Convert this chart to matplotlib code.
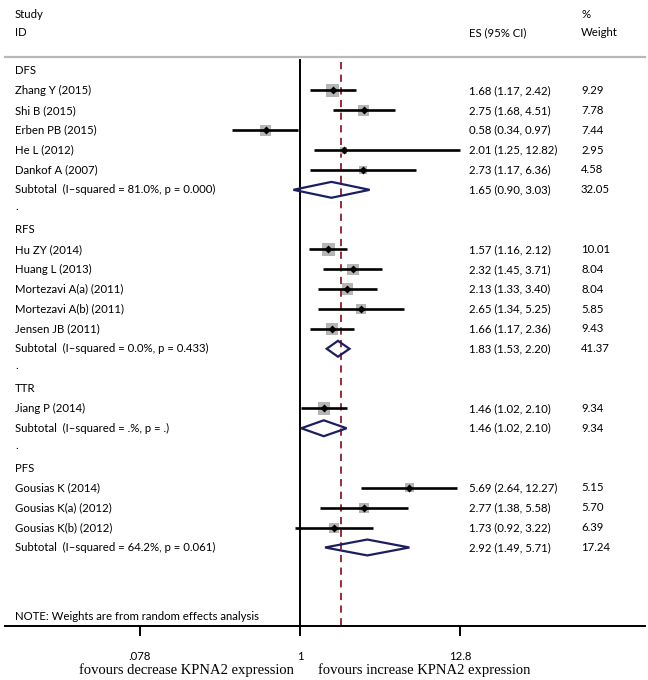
import numpy as np
import matplotlib
matplotlib.use("Agg")
import matplotlib.pyplot as plt
from matplotlib import transforms
from matplotlib.patches import Polygon
from matplotlib.ticker import FixedLocator, FixedFormatter, NullLocator
from matplotlib.textpath import TextPath
from matplotlib.font_manager import FontProperties

# ---------------- data ----------------
groups = ["DFS", "RFS", "TTR", "PFS"]

study_labels = [
    ["Zhang Y (2015)", "Shi B (2015)", "Erben PB (2015)", "He L (2012)", "Dankof A (2007)"],
    ["Hu ZY (2014)", "Huang L (2013)", "Mortezavi A(a) (2011)", "Mortezavi A(b) (2011)", "Jensen JB (2011)"],
    ["Jiang P (2014)"],
    ["Gousias K (2014)", "Gousias K(a) (2012)", "Gousias K(b) (2012)"],
]
study_es = [[1.68, 2.75, 0.58, 2.01, 2.73], [1.57, 2.32, 2.13, 2.65, 1.66], [1.46], [5.69, 2.77, 1.73]]
study_lo = [[1.17, 1.68, 0.34, 1.25, 1.17], [1.16, 1.45, 1.33, 1.34, 1.17], [1.02], [2.64, 1.38, 0.92]]
study_hi = [[2.42, 4.51, 0.97, 12.82, 6.36], [2.12, 3.71, 3.40, 5.25, 2.36], [2.10], [12.27, 5.58, 3.22]]
study_wt = [[9.29, 7.78, 7.44, 2.95, 4.58], [10.01, 8.04, 8.04, 5.85, 9.43], [9.34], [5.15, 5.70, 6.39]]

sub_labels = ["Subtotal  (I\u2013squared = 81.0%, p = 0.000)",
              "Subtotal  (I\u2013squared = 0.0%, p = 0.433)",
              "Subtotal  (I\u2013squared = .%, p = .)",
              "Subtotal  (I\u2013squared = 64.2%, p = 0.061)"]
sub_es = [1.65, 1.83, 1.46, 2.92]
sub_lo = [0.90, 1.53, 1.02, 1.49]
sub_hi = [3.03, 2.20, 2.10, 5.71]
sub_wt = [32.05, 41.37, 9.34, 17.24]

overall_es = 1.91
tick_vals = [0.078, 1, 12.8]
tick_labels = [".078", "1", "12.8"]
note = "NOTE: Weights are from random effects analysis"
left_label = "fovours decrease KPNA2 expression"
right_label = "fovours increase KPNA2 expression"

# ---------------- style ----------------
W, H = 648, 680
fig = plt.figure(figsize=(W / 100, H / 100), dpi=100)
sans = ["Lato", "Liberation Sans", "DejaVu Sans"]
serif = ["Liberation Serif", "DejaVu Serif"]

# choose font size so that the sample label has the reference width (~76 px)
_tp = TextPath((0, 0), "Zhang Y (2015)", size=10, prop=FontProperties(family=sans))
_w10 = _tp.get_extents().width * 100 / 72.0
fs = 10 * 76.0 / _w10

row0_px, row_h = 70.6, 19.87
top_px, bot_px = 57, 626
left_px, right_px = 5, 645
px_per_ln = 62.8

def px2row(p):
    return (p - row0_px) / row_h

ax = fig.add_axes([left_px / W, (H - bot_px) / H, (right_px - left_px) / W, (bot_px - top_px) / H])
ax.set_xscale("log")
ax.set_xlim(np.exp((left_px - 300) / px_per_ln), np.exp((right_px - 300) / px_per_ln))
ax.set_ylim(px2row(bot_px), px2row(top_px))
ax.patch.set_alpha(0)
for s in ["left", "right"]:
    ax.spines[s].set_visible(False)
ax.spines["top"].set_color("#b8b8b8")
ax.spines["top"].set_linewidth(1.6)
ax.spines["bottom"].set_linewidth(1.4)
ax.yaxis.set_major_locator(NullLocator())
ax.xaxis.set_major_locator(FixedLocator(tick_vals))
ax.xaxis.set_major_formatter(FixedFormatter(tick_labels))
ax.xaxis.set_minor_locator(NullLocator())
ax.tick_params(axis="x", direction="out", length=7, width=1.4, pad=11, labelsize=fs)
for lab in ax.get_xticklabels():
    lab.set_fontfamily(sans)

trans = transforms.blended_transform_factory(fig.transFigure, ax.transData)
x_lab, x_es, x_wt = 15 / W, 469 / W, 581 / W

def txt(x, y, s, **kw):
    ax.text(x, y, s, transform=trans, va="center", ha="left", fontsize=fs,
            family=sans, clip_on=False, **kw)

# header
txt(x_lab, px2row(14), "Study")
txt(x_lab, px2row(33), "ID")
txt(x_es, px2row(33), "ES (95% CI)")
txt(x_wt, px2row(14), "%")
txt(x_wt, px2row(33), "Weight")

y_bottom = px2row(bot_px)
ax.plot([1, 1], [px2row(60), y_bottom], color="black", lw=1.4, clip_on=False)
ax.plot([overall_es, overall_es], [px2row(62), y_bottom], color="#8c1c2c", lw=1.3,
        ls=(0, (4, 3)), zorder=1)

row = 0
for g in range(len(groups)):
    txt(x_lab, row, groups[g])
    row += 1
    for lab, es, lo, hi, wt in zip(study_labels[g], study_es[g], study_lo[g], study_hi[g], study_wt[g]):
        txt(x_lab, row, lab)
        txt(x_es, row, f"{es:.2f} ({lo:.2f}, {hi:.2f})")
        txt(x_wt, row, f"{wt:.2f}")
        ax.scatter([es], [row], marker="s", s=8.35 * wt, color="#b5b5b5", edgecolors="none", zorder=2)
        ax.plot([lo, hi], [row, row], color="black", lw=1.9, zorder=3, solid_capstyle="butt")
        ax.plot([es], [row], marker="D", ms=3.8, color="black", mec="none", zorder=4)
        row += 1
    txt(x_lab, row, sub_labels[g])
    txt(x_es, row, f"{sub_es[g]:.2f} ({sub_lo[g]:.2f}, {sub_hi[g]:.2f})")
    txt(x_wt, row, f"{sub_wt[g]:.2f}")
    h = 0.4
    poly = Polygon([(sub_lo[g], row), (sub_es[g], row - h), (sub_hi[g], row), (sub_es[g], row + h)],
                   closed=True, fill=False, edgecolor="#1b1f5f", lw=1.6, zorder=5)
    ax.add_patch(poly)
    row += 1
    if g < len(groups) - 1:
        txt(x_lab, row - 0.15, ".")
        row += 1

txt(x_lab, px2row(616), note)

fig.text(186 / W, (H - 670) / H, left_label, ha="center", va="center", family=serif, fontsize=10.5)
fig.text(424 / W, (H - 670) / H, right_label, ha="center", va="center", family=serif, fontsize=10.5)

fig.savefig("out.png", dpi=100)
